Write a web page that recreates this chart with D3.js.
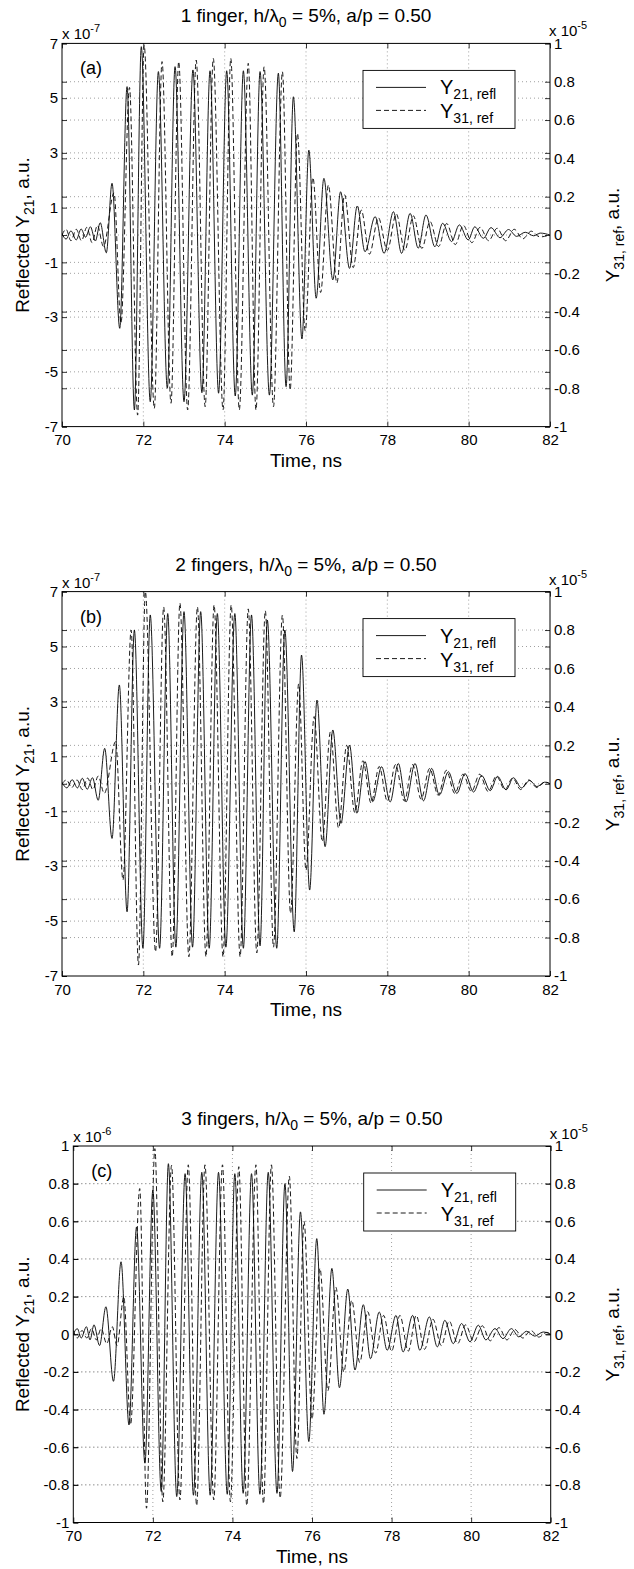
<!DOCTYPE html>
<html>
<head>
<meta charset="utf-8">
<script src="https://cdn.jsdelivr.net/npm/d3@7"></script>
<style>
  body { margin: 0; background: #fff; }
  text { font-family: "Liberation Sans", Arial, Helvetica, sans-serif; fill: #000; }
</style>
</head>
<body>
<div id="chart"></div>
<script>
// ---- data (Y21 in units of the left multiplier, Y31 in units of 1e-5) ----
const timeTicks = [70, 72, 74, 76, 78, 80, 82];
const leftTicksAB = [-7, -5, -3, -1, 1, 3, 5, 7];
const unitTicks = [-1, -0.8, -0.6, -0.4, -0.2, 0, 0.2, 0.4, 0.6, 0.8, 1];
const panelTitles = ["1 finger", "2 fingers", "3 fingers"];
const panelLetters = ["(a)", "(b)", "(c)"];
const leftExponents = ["-7", "-7", "-6"];
const rightExponent = "-5";

// extrema of each trace: [time ns, value]
const aY21 = [
  [70.00,0.05],[70.10,-0.15],[70.22,0.15],[70.35,-0.18],[70.47,0.22],[70.58,-0.08],[70.70,0.30],[70.82,-0.22],[70.94,0.45],[71.09,-0.65],
  [71.23,1.89],[71.42,-3.41],[71.60,5.42],[71.78,-6.39],[71.95,6.88],[72.17,-6.09],[72.37,5.97],[72.59,-5.60],[72.78,6.15],[73.00,-6.09],
  [73.22,6.03],[73.44,-5.76],[73.64,6.00],[73.85,-5.78],[74.05,6.00],[74.26,-5.88],[74.46,6.00],[74.68,-5.85],[74.87,5.97],[75.10,-5.85],
  [75.32,5.91],[75.51,-5.54],[75.69,5.05],[75.90,-3.80],[76.07,3.10],[76.25,-2.31],[76.44,2.07],[76.66,-1.64],[76.85,1.58],[77.07,-1.22],
  [77.26,1.06],[77.45,-0.61],[77.70,0.67],[77.92,-0.67],[78.15,0.85],[78.35,-0.67],[78.56,0.79],[78.76,-0.48],[78.95,0.73],[79.17,-0.43],
  [79.36,0.43],[79.58,-0.24],[79.77,0.37],[79.99,-0.18],[80.15,0.30],[80.36,-0.12],[80.55,0.27],[80.77,-0.10],[80.98,0.20],[81.18,-0.05],
  [81.39,0.10],[81.60,-0.03],[81.76,0.07],[82.00,0.00]
];
const aY31 = [
  [70.00,0.00],[70.10,0.03],[70.22,-0.03],[70.35,0.03],[70.48,-0.03],[70.61,0.04],[70.74,-0.04],[70.87,0.05],[71.02,-0.06],
  [71.28,0.22],[71.45,-0.46],[71.66,0.77],[71.86,-0.94],[72.02,0.99],[72.27,-0.905],[72.46,0.905],[72.68,-0.878],[72.87,0.905],[73.09,-0.913],
  [73.30,0.913],[73.52,-0.896],[73.72,0.922],[73.96,-0.913],[74.15,0.922],[74.36,-0.913],[74.58,0.896],[74.77,-0.913],[74.97,0.878],[75.20,-0.896],
  [75.42,0.852],[75.61,-0.809],[75.79,0.53],[75.98,-0.50],[76.17,0.30],[76.36,-0.30],[76.55,0.26],[76.76,-0.25],[76.95,0.21],[77.16,-0.17],
  [77.36,0.13],[77.56,-0.10],[77.78,0.09],[78.00,-0.08],[78.22,0.11],[78.43,-0.08],[78.64,0.10],[78.85,-0.07],[79.05,0.07],[79.26,-0.06],
  [79.46,0.06],[79.67,-0.05],[79.87,0.05],[80.08,-0.04],[80.28,0.04],[80.49,-0.03],[80.70,0.035],[80.91,-0.03],[81.12,0.03],[81.33,-0.02],
  [81.54,0.02],[81.75,-0.01],[82.00,0.00]
];
const bY21 = [
  [70.00,0.05],[70.12,-0.15],[70.25,0.15],[70.38,-0.15],[70.50,0.20],[70.62,-0.20],[70.75,0.22],[70.89,-0.60],[71.05,1.29],[71.23,-1.99],
  [71.41,3.60],[71.60,-4.66],[71.78,5.60],[71.99,-5.99],[72.17,6.15],[72.40,-5.99],[72.60,6.20],[72.80,-5.95],[73.00,6.27],[73.21,-5.95],
  [73.41,6.27],[73.62,-5.99],[73.82,6.20],[74.03,-5.95],[74.25,6.20],[74.46,-5.99],[74.66,6.15],[74.87,-5.90],[75.05,5.96],[75.28,-5.99],
  [75.48,5.60],[75.71,-5.39],[75.89,4.69],[76.09,-3.87],[76.27,3.05],[76.47,-2.29],[76.66,1.96],[76.86,-1.44],[77.07,1.41],[77.25,-1.07],
  [77.45,0.81],[77.64,-0.65],[77.86,0.62],[78.07,-0.66],[78.27,0.74],[78.46,-0.66],[78.68,0.74],[78.89,-0.62],[79.09,0.56],[79.28,-0.41],
  [79.50,0.44],[79.71,-0.35],[79.91,0.37],[80.12,-0.30],[80.32,0.30],[80.53,-0.25],[80.71,0.27],[80.92,-0.22],[81.10,0.22],[81.30,-0.15],
  [81.50,0.12],[81.68,-0.10],[81.87,0.06],[82.00,0.00]
];
const bY31 = [
  [70.00,0.00],[70.11,0.02],[70.24,-0.02],[70.37,0.02],[70.50,-0.03],[70.63,0.03],[70.76,-0.03],[70.89,0.04],[71.04,-0.05],
  [71.32,0.22],[71.50,-0.50],[71.70,0.80],[71.88,-0.943],[72.05,1.00],[72.30,-0.874],[72.50,0.92],[72.71,-0.90],[72.90,0.94],[73.12,-0.90],
  [73.33,0.92],[73.54,-0.90],[73.74,0.93],[73.96,-0.90],[74.16,0.93],[74.38,-0.90],[74.58,0.91],[74.79,-0.88],[75.00,0.90],[75.20,-0.85],
  [75.42,0.878],[75.62,-0.674],[75.82,0.52],[76.00,-0.45],[76.20,0.35],[76.40,-0.30],[76.60,0.27],[76.80,-0.23],[77.00,0.20],[77.20,-0.15],
  [77.40,0.12],[77.60,-0.10],[77.80,0.09],[78.00,-0.09],[78.20,0.10],[78.42,-0.09],[78.62,0.10],[78.83,-0.08],[79.04,0.08],[79.25,-0.06],
  [79.45,0.07],[79.66,-0.05],[79.86,0.05],[80.07,-0.04],[80.27,0.05],[80.48,-0.04],[80.68,0.04],[80.89,-0.03],[81.08,0.03],[81.28,-0.03],
  [81.48,0.02],[81.68,-0.02],[81.88,0.01],[82.00,0.00]
];
const cY21 = [
  [70.00,0.00],[70.10,0.03],[70.20,-0.02],[70.33,0.04],[70.42,-0.03],[70.52,0.05],[70.66,-0.06],[70.82,0.146],[71.01,-0.25],[71.20,0.385],
  [71.40,-0.482],[71.59,0.57],[71.80,-0.685],[72.00,0.765],[72.21,-0.835],[72.39,0.906],[72.60,-0.862],[72.81,0.853],[73.02,-0.855],[73.23,0.86],
  [73.44,-0.855],[73.65,0.86],[73.87,-0.85],[74.06,0.853],[74.27,-0.845],[74.48,0.853],[74.69,-0.85],[74.90,0.86],[75.12,-0.845],[75.32,0.80],
  [75.51,-0.729],[75.71,0.65],[75.92,-0.57],[76.12,0.508],[76.30,-0.425],[76.50,0.35],[76.69,-0.284],[76.90,0.24],[77.08,-0.19],[77.29,0.157],
  [77.47,-0.13],[77.69,0.118],[77.89,-0.085],[78.11,0.10],[78.29,-0.094],[78.53,0.10],[78.71,-0.085],[78.95,0.092],[79.15,-0.067],[79.34,0.074],
  [79.55,-0.05],[79.76,0.057],[79.97,-0.04],[80.18,0.048],[80.37,-0.03],[80.60,0.03],[80.80,-0.023],[81.01,0.03],[81.20,-0.014],[81.39,0.016],
  [81.60,-0.01],[81.81,0.012],[82.00,0.00]
];
const cY31 = [
  [70.00,0.02],[70.10,-0.02],[70.22,0.02],[70.34,-0.02],[70.46,0.03],[70.58,-0.03],[70.70,0.03],[70.84,-0.05],[70.98,0.04],[71.10,-0.06],
  [71.27,0.20],[71.44,-0.48],[71.67,0.774],[71.84,-0.924],[72.05,0.986],[72.25,-0.89],[72.47,0.897],[72.68,-0.88],[72.89,0.90],[73.10,-0.91],
  [73.31,0.90],[73.53,-0.88],[73.75,0.90],[73.95,-0.89],[74.16,0.89],[74.36,-0.91],[74.59,0.90],[74.78,-0.90],[74.98,0.90],[75.20,-0.87],
  [75.43,0.84],[75.62,-0.66],[75.80,0.60],[76.00,-0.45],[76.20,0.35],[76.40,-0.30],[76.60,0.25],[76.80,-0.20],[77.00,0.18],[77.20,-0.15],
  [77.40,0.12],[77.60,-0.10],[77.80,0.10],[78.00,-0.09],[78.21,0.10],[78.42,-0.09],[78.62,0.10],[78.83,-0.08],[79.04,0.08],[79.25,-0.06],
  [79.45,0.07],[79.66,-0.05],[79.86,0.05],[80.07,-0.04],[80.28,0.045],[80.48,-0.035],[80.70,0.035],[80.90,-0.03],[81.10,0.025],[81.30,-0.02],
  [81.50,0.02],[81.70,-0.015],[81.90,0.01],[82.00,0.00]
];

// ---- layout ----
const W = 634, H = 1569;
const panels = [
  {left: 62,   right: 550,   top: 43.4,   bottom: 426.6,  leftDomain: [-7, 7], leftTicks: leftTicksAB, y21: aY21, y31: aY31},
  {left: 62,   right: 550,   top: 591.6,  bottom: 976,    leftDomain: [-7, 7], leftTicks: leftTicksAB, y21: bY21, y31: bY31},
  {left: 73.3, right: 550.7, top: 1146,   bottom: 1522.5, leftDomain: [-1, 1], leftTicks: unitTicks,   y21: cY21, y31: cY31}
];

const svg = d3.select("#chart").append("svg")
  .attr("width", W).attr("height", H);

const fmt = d => String(+d.toFixed(1));

function styleAxis(g) {
  g.attr("font-family", null).attr("font-size", null);
  g.select(".domain").remove();
  g.selectAll("line").attr("stroke", "#000").attr("stroke-width", 0.8);
  g.selectAll("text").style("font-size", "15px");
}

panels.forEach((p, i) => {
  const x = d3.scaleLinear().domain([70, 82]).range([p.left, p.right]);
  const yL = d3.scaleLinear().domain(p.leftDomain).range([p.bottom, p.top]);
  const yR = d3.scaleLinear().domain([-1, 1]).range([p.bottom, p.top]);
  const g = svg.append("g");

  // dotted grid for both y axes and the time axis
  const grid = g.append("g").attr("stroke", "#888").attr("stroke-width", 0.8)
    .attr("stroke-dasharray", "1,3");
  timeTicks.slice(1, -1).forEach(t => grid.append("line")
    .attr("x1", x(t)).attr("x2", x(t)).attr("y1", p.top).attr("y2", p.bottom));
  p.leftTicks.slice(1, -1).forEach(v => grid.append("line")
    .attr("x1", p.left).attr("x2", p.right).attr("y1", yL(v)).attr("y2", yL(v)));
  unitTicks.slice(1, -1).forEach(v => grid.append("line")
    .attr("x1", p.left).attr("x2", p.right).attr("y1", yR(v)).attr("y2", yR(v)));

  // traces
  const clipId = "clip" + i;
  g.append("clipPath").attr("id", clipId).append("rect")
    .attr("x", p.left).attr("y", p.top).attr("width", p.right - p.left).attr("height", p.bottom - p.top);
  const lineL = d3.line().x(d => x(d[0])).y(d => yL(d[1])).curve(d3.curveMonotoneX);
  const lineR = d3.line().x(d => x(d[0])).y(d => yR(d[1])).curve(d3.curveMonotoneX);
  const plot = g.append("g").attr("clip-path", "url(#" + clipId + ")");
  plot.append("path").attr("d", lineR(p.y31)).attr("fill", "none")
    .attr("stroke", "#000").attr("stroke-width", 0.9).attr("stroke-dasharray", "5,3");
  plot.append("path").attr("d", lineL(p.y21)).attr("fill", "none")
    .attr("stroke", "#000").attr("stroke-width", 0.9);

  // axes (ticks point inward, mirrored on the opposite side)
  g.append("g").attr("transform", "translate(" + p.left + ",0)")
    .call(d3.axisLeft(yL).tickValues(p.leftTicks).tickFormat(fmt).tickSizeInner(-5).tickSizeOuter(0).tickPadding(4))
    .call(styleAxis);
  g.append("g").attr("transform", "translate(" + p.right + ",0)")
    .call(d3.axisLeft(yL).tickValues(p.leftTicks).tickFormat("").tickSizeInner(5).tickSizeOuter(0))
    .call(styleAxis);
  g.append("g").attr("transform", "translate(" + p.right + ",0)")
    .call(d3.axisRight(yR).tickValues(unitTicks).tickFormat(fmt).tickSizeInner(-5).tickSizeOuter(0).tickPadding(4))
    .call(styleAxis);
  g.append("g").attr("transform", "translate(" + p.left + ",0)")
    .call(d3.axisRight(yR).tickValues(unitTicks).tickFormat("").tickSizeInner(5).tickSizeOuter(0))
    .call(styleAxis);
  g.append("g").attr("transform", "translate(0," + p.bottom + ")")
    .call(d3.axisBottom(x).tickValues(timeTicks).tickSizeInner(-5).tickSizeOuter(0).tickPadding(8))
    .call(styleAxis);
  g.append("g").attr("transform", "translate(0," + p.top + ")")
    .call(d3.axisBottom(x).tickValues(timeTicks).tickFormat("").tickSizeInner(5).tickSizeOuter(0))
    .call(styleAxis);

  g.append("rect").attr("x", p.left).attr("y", p.top)
    .attr("width", p.right - p.left).attr("height", p.bottom - p.top)
    .attr("fill", "none").attr("stroke", "#000").attr("stroke-width", 1);

  // exponent labels
  const eL = g.append("text").attr("x", p.left).attr("y", p.top - 4).style("font-size", "15px");
  eL.append("tspan").text("x 10");
  eL.append("tspan").attr("dy", -7).style("font-size", "11px").text(leftExponents[i]);
  const eR = g.append("text").attr("x", p.right - 1).attr("y", p.top - 7).style("font-size", "15px");
  eR.append("tspan").text("x 10");
  eR.append("tspan").attr("dy", -7).style("font-size", "11px").text(rightExponent);

  // title
  const cx = (p.left + p.right) / 2;
  const title = g.append("text").attr("x", cx).attr("y", p.top - 21)
    .attr("text-anchor", "middle").style("font-size", "19px");
  title.append("tspan").text(panelTitles[i] + ", h/\u03bb");
  title.append("tspan").attr("dy", 5).style("font-size", "14px").text("0");
  title.append("tspan").attr("dy", -5).text(" = 5%, a/p = 0.50");

  // x label
  g.append("text").attr("x", cx).attr("y", p.bottom + 40)
    .attr("text-anchor", "middle").style("font-size", "19px").text("Time, ns");

  // y labels
  const midY = (p.top + p.bottom) / 2;
  const yl = g.append("text").attr("transform", "translate(22," + midY + ") rotate(-90)")
    .attr("text-anchor", "middle").attr("dy", "0.35em").style("font-size", "19px");
  yl.append("tspan").text("Reflected Y");
  yl.append("tspan").attr("dy", 5).style("font-size", "14px").text("21");
  yl.append("tspan").attr("dy", -5).text(", a.u.");
  const yr = g.append("text").attr("transform", "translate(612," + midY + ") rotate(-90)")
    .attr("text-anchor", "middle").attr("dy", "0.35em").style("font-size", "19px");
  yr.append("tspan").text("Y");
  yr.append("tspan").attr("dy", 5).style("font-size", "14px").text("31, ref");
  yr.append("tspan").attr("dy", -5).text(", a.u.");

  // panel letter
  g.append("text").attr("x", p.left + 18).attr("y", p.top + 31)
    .style("font-size", "18px").text(panelLetters[i]);

  // legend
  const lx = p.right - 187, ly = p.top + 27;
  const lg = g.append("g").attr("transform", "translate(" + lx + "," + ly + ")");
  lg.append("rect").attr("width", 152).attr("height", 58)
    .attr("fill", "#fff").attr("stroke", "#000").attr("stroke-width", 0.9);
  lg.append("line").attr("x1", 13).attr("x2", 63).attr("y1", 17).attr("y2", 17)
    .attr("stroke", "#000").attr("stroke-width", 0.9);
  lg.append("line").attr("x1", 13).attr("x2", 63).attr("y1", 40).attr("y2", 40)
    .attr("stroke", "#000").attr("stroke-width", 0.9).attr("stroke-dasharray", "5,3");
  [["21, refl", 24], ["31, ref", 48]].forEach(([sub, yy]) => {
    const t = lg.append("text").attr("x", 77).attr("y", yy).style("font-size", "20px");
    t.append("tspan").text("Y");
    t.append("tspan").attr("dy", 5).style("font-size", "14px").text(sub);
  });
});
</script>
</body>
</html>
